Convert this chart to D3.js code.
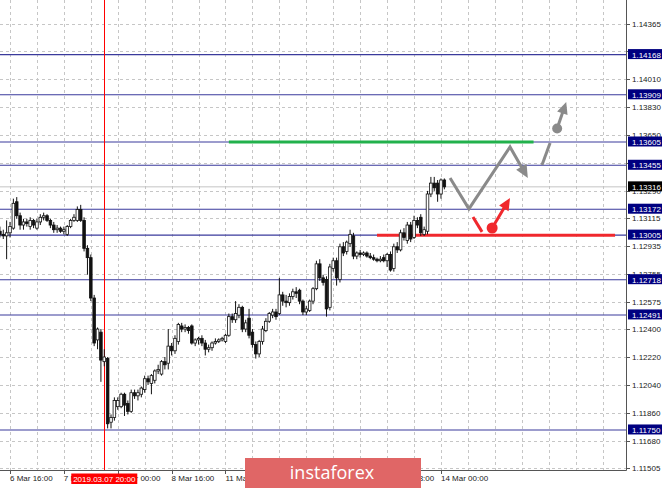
<!DOCTYPE html>
<html><head><meta charset="utf-8">
<script src="https://cdn.jsdelivr.net/npm/d3@7"></script>
<style>html,body{margin:0;padding:0;background:#fff;}svg{display:block;font-family:"Liberation Sans",Arial,sans-serif;}</style>
</head><body><svg id="c" width="665" height="488"></svg>
<script>
// ---- data (EURUSD H1) ----
const opens=[1.1303,1.1301,1.1300,1.1302,1.1305,1.1322,1.1313,1.1307,1.1309,1.1306,1.1310,1.1305,1.1309,1.1312,1.1313,1.1310,1.1307,1.1304,1.1305,1.1303,
1.1301,1.1306,1.1310,1.1310,1.1317,1.1310,1.1292,1.1286,1.1260,1.1233,1.1238,1.1219,1.1221,1.1180,1.1183,1.1190,1.1190,1.1198,1.1192,1.1187,
1.1199,1.1197,1.1198,1.1201,1.1208,1.1205,1.1207,1.1213,1.1211,1.1219,1.1218,1.1229,1.1226,1.1232,1.1242,1.1240,1.1241,1.1242,1.1231,1.1233,
1.1234,1.1231,1.1227,1.1228,1.1231,1.1232,1.1233,1.1232,1.1236,1.1248,1.1246,1.1249,1.1254,1.1240,1.1247,1.1238,1.1230,1.1224,1.1232,1.1239,
1.1245,1.1249,1.1251,1.1250,1.1262,1.1258,1.1257,1.1261,1.1264,1.1265,1.1258,1.1251,1.1252,1.1258,1.1266,1.1282,1.1273,1.1272,1.1254,1.1279,
1.1284,1.1272,1.1293,1.1290,1.1295,1.1300,1.1287,1.1289,1.1288,1.1289,1.1287,1.1286,1.1285,1.1284,1.1286,1.1284,1.1288,1.1279,1.1293,1.1291,
1.1302,1.1297,1.1307,1.1299,1.1310,1.1312,1.1301,1.1303,1.1327,1.1334,1.1334,1.1327,1.1336];
const highs=[1.1306,1.1304,1.1310,1.1309,1.1324,1.1325,1.1315,1.1311,1.1311,1.1312,1.1311,1.1311,1.1314,1.1315,1.1314,1.1311,1.1309,1.1307,1.1306,1.1306,
1.1307,1.1311,1.1314,1.1319,1.1320,1.1312,1.1294,1.1288,1.1262,1.1241,1.1240,1.1227,1.1222,1.1185,1.1196,1.1196,1.1199,1.1199,1.1194,1.1201,
1.1201,1.1201,1.1203,1.1210,1.1210,1.1211,1.1214,1.1217,1.1220,1.1222,1.1240,1.1231,1.1236,1.1244,1.1244,1.1243,1.1242,1.1243,1.1234,1.1235,
1.1236,1.1233,1.1230,1.1232,1.1234,1.1234,1.1235,1.1237,1.1250,1.1250,1.1258,1.1256,1.1255,1.1246,1.1253,1.1240,1.1232,1.1233,1.1242,1.1247,
1.1251,1.1253,1.1253,1.1273,1.1264,1.1262,1.1263,1.1266,1.1267,1.1266,1.1259,1.1255,1.1259,1.1267,1.1284,1.1285,1.1275,1.1274,1.1282,1.1286,
1.1286,1.1295,1.1296,1.1297,1.1304,1.1302,1.1290,1.1291,1.1290,1.1290,1.1289,1.1288,1.1286,1.1287,1.1288,1.1289,1.1290,1.1295,1.1296,1.1304,
1.1305,1.1309,1.1309,1.1313,1.1312,1.1314,1.1306,1.1329,1.1338,1.1338,1.1336,1.1337,1.1337];
const lows=[1.1299,1.1298,1.1285,1.1299,1.1304,1.1311,1.1304,1.1304,1.1306,1.1304,1.1305,1.1304,1.1307,1.1310,1.1309,1.1305,1.1302,1.1302,1.1302,1.1301,
1.1300,1.1305,1.1309,1.1309,1.1309,1.1290,1.1275,1.1258,1.1229,1.1227,1.1206,1.1216,1.1176,1.1176,1.1181,1.1188,1.1189,1.1184,1.1185,1.1186,
1.1195,1.1194,1.1196,1.1199,1.1204,1.1198,1.1205,1.1211,1.1210,1.1214,1.1214,1.1223,1.1224,1.1230,1.1238,1.1238,1.1237,1.1230,1.1229,1.1230,
1.1229,1.1223,1.1225,1.1226,1.1230,1.1231,1.1232,1.1231,1.1235,1.1244,1.1244,1.1247,1.1238,1.1238,1.1234,1.1228,1.1221,1.1222,1.1230,1.1238,
1.1244,1.1247,1.1246,1.1249,1.1255,1.1254,1.1255,1.1259,1.1260,1.1256,1.1249,1.1249,1.1251,1.1256,1.1265,1.1271,1.1268,1.1248,1.1252,1.1277,
1.1268,1.1270,1.1287,1.1288,1.1293,1.1285,1.1285,1.1286,1.1287,1.1286,1.1285,1.1284,1.1283,1.1283,1.1283,1.1280,1.1277,1.1277,1.1289,1.1290,
1.1297,1.1295,1.1296,1.1298,1.1305,1.1300,1.1300,1.1301,1.1325,1.1329,1.1322,1.1324,1.1330];
const closes=[1.1301,1.1300,1.1302,1.1306,1.1321,1.1313,1.1307,1.1309,1.1308,1.1310,1.1307,1.1309,1.1312,1.1313,1.1310,1.1307,1.1304,1.1305,1.1303,1.1304,
1.1306,1.1310,1.1312,1.1317,1.1310,1.1292,1.1286,1.1260,1.1231,1.1240,1.1220,1.1222,1.1179,1.1183,1.1194,1.1194,1.1198,1.1191,1.1187,1.1199,
1.1197,1.1199,1.1202,1.1208,1.1206,1.1210,1.1213,1.1214,1.1219,1.1217,1.1229,1.1226,1.1234,1.1243,1.1240,1.1241,1.1239,1.1231,1.1233,1.1234,
1.1231,1.1227,1.1228,1.1231,1.1232,1.1233,1.1234,1.1236,1.1248,1.1246,1.1250,1.1254,1.1240,1.1244,1.1236,1.1230,1.1224,1.1232,1.1240,1.1245,
1.1250,1.1251,1.1248,1.1262,1.1258,1.1257,1.1261,1.1264,1.1263,1.1258,1.1251,1.1253,1.1258,1.1266,1.1282,1.1273,1.1270,1.1253,1.1280,1.1284,
1.1273,1.1293,1.1289,1.1296,1.1301,1.1287,1.1289,1.1288,1.1289,1.1287,1.1286,1.1285,1.1284,1.1285,1.1284,1.1288,1.1278,1.1293,1.1291,1.1302,
1.1299,1.1307,1.1298,1.1310,1.1307,1.1302,1.1304,1.1327,1.1334,1.1331,1.1327,1.1336,1.13316];

const priceTicks=[1.14365,1.14190,1.14010,1.13830,1.13650,1.13470,1.13290,1.13115,1.12935,1.12755,1.12575,1.12400,1.12220,1.12040,1.11860,1.11680,1.11505];
const levelPrices=[1.14168,1.13909,1.13605,1.13455,1.13172,1.13005,1.12718,1.12491,1.11750];
const currentPrice=1.13316;

const timeLabels=["6 Mar 16:00","7 Mar 08:00","8 Mar 00:00","8 Mar 16:00","11 Mar 08:00","12 Mar 00:00","12 Mar 16:00","13 Mar 08:00","14 Mar 00:00"];
const timeLabelBars=[3,19,35,51,67,83,99,115,131];
const gridBars=[3,11,19,27,35,43,51,59,67,75,83,91,99,107,115,123,131,139,147,155,163,171,179];
const markerBar=31, markerLabel="2019.03.07 20:00";

// drawn analysis objects: [bar, price]
const greenLine=[[68,1.13605],[158.5,1.13605]];
const redLine=[[112,1.13005],[182.7,1.13005]];
const grayPath1=[[133.7,1.13373],[139.3,1.13174],[151.5,1.13573],[156.8,1.13373]];
const grayPath2=[[161.0,1.13457],[163.4,1.13599]];
const grayArrow2=[[165.5,1.13692],[168.2,1.13863]];
const redSeg=[[140.5,1.13122],[143.2,1.13026]];
const redArrow=[[146.2,1.13051],[151.5,1.13244]];
const brandText="instaforex";

// ---- drawing ----
const W=626, H=470;
const svg=d3.select("#c");
svg.append("rect").attr("width",665).attr("height",488).attr("fill","#fff");
const x=d3.scaleLinear().domain([0,186]).range([-0.1,-0.1+186*3.367]);
const y=d3.scaleLinear().domain([1.11505,1.14365]).range([468,24]);

svg.append("clipPath").attr("id","pc").append("rect").attr("x",0).attr("y",0).attr("width",W).attr("height",H);
const g=svg.append("g").attr("clip-path","url(#pc)");

// grid
g.selectAll(".hg").data(priceTicks).join("line")
 .attr("x1",0).attr("x2",W).attr("y1",d=>Math.round(y(d))+0.5).attr("y2",d=>Math.round(y(d))+0.5)
 .attr("stroke","#c6c6c6").attr("stroke-dasharray","3,3");
g.selectAll(".vg").data(gridBars).join("line")
 .attr("y1",0).attr("y2",H).attr("x1",d=>Math.round(x(d))+0.5).attr("x2",d=>Math.round(x(d))+0.5)
 .attr("stroke","#c6c6c6").attr("stroke-dasharray","3,3");

// bid line
g.append("line").attr("x1",0).attr("x2",W).attr("y1",y(currentPrice)).attr("y2",y(currentPrice)).attr("stroke","#c4c4c4");

// levels
g.selectAll(".lv").data(levelPrices).join("line")
 .attr("x1",0).attr("x2",W).attr("y1",d=>y(d)).attr("y2",d=>y(d))
 .attr("stroke","#3a3a9c").attr("stroke-width",1.1);

// vertical red marker
g.append("line").attr("x1",Math.round(x(markerBar))+0.5).attr("x2",Math.round(x(markerBar))+0.5).attr("y1",0).attr("y2",H).attr("stroke","#ff0000");

const line=d3.line().x(d=>x(d[0])).y(d=>y(d[1]));
g.append("path").attr("d",line(greenLine)).attr("stroke","#22b14c").attr("stroke-width",3).attr("fill","none");
g.append("path").attr("d",line(redLine)).attr("stroke","#f0282d").attr("stroke-width",3).attr("fill","none");

// candles
const bars=d3.range(opens.length);
const cg=g.append("g");
cg.selectAll(".wk").data(bars).join("line")
 .attr("x1",i=>x(i)).attr("x2",i=>x(i)).attr("y1",i=>y(highs[i])).attr("y2",i=>y(lows[i]))
 .attr("stroke","#111").attr("stroke-width",1);
cg.selectAll(".bd").data(bars).join("rect")
 .attr("x",i=>x(i)-1.3).attr("width",2.6)
 .attr("y",i=>y(Math.max(opens[i],closes[i])))
 .attr("height",i=>Math.max(1,Math.abs(y(opens[i])-y(closes[i]))))
 .attr("fill",i=>closes[i]>=opens[i]?"#fff":"#111")
 .attr("stroke","#111").attr("stroke-width",0.8);

// forecast arrows
function arrowHead(sel,pts,color,len,hw){
  const a=pts[pts.length-2], b=pts[pts.length-1];
  const x1=x(a[0]),y1=y(a[1]),x2=x(b[0]),y2=y(b[1]);
  const dx=x2-x1, dy=y2-y1, L=Math.hypot(dx,dy), ux=dx/L, uy=dy/L;
  const bx=x2-ux*len, by=y2-uy*len;
  sel.append("polygon").attr("points",[[x2,y2],[bx-uy*hw,by+ux*hw],[bx+uy*hw,by-ux*hw]].map(p=>p.join(",")).join(" ")).attr("fill",color);
}
function shortLine(pts,len){
  const a=pts[pts.length-2], b=pts[pts.length-1];
  const x1=x(a[0]),y1=y(a[1]),x2=x(b[0]),y2=y(b[1]);
  const dx=x2-x1, dy=y2-y1, L=Math.hypot(dx,dy);
  const px=pts.slice(0,-1).map(d=>[x(d[0]),y(d[1])]);
  px.push([x2-dx/L*len*0.8,y2-dy/L*len*0.8]);
  return "M"+px.map(p=>p.join(",")).join("L");
}
const gray="#8a8a8a", red="#f0282d";
g.append("path").attr("d",shortLine(grayPath1,12)).attr("stroke",gray).attr("stroke-width",3).attr("fill","none").attr("stroke-linejoin","miter");
arrowHead(g,grayPath1,gray,13,6);
g.append("path").attr("d",line(grayPath2)).attr("stroke",gray).attr("stroke-width",3).attr("fill","none");
g.append("path").attr("d",shortLine(grayArrow2,11)).attr("stroke",gray).attr("stroke-width",3).attr("fill","none");
arrowHead(g,grayArrow2,gray,12,5.5);
g.append("circle").attr("cx",x(grayArrow2[0][0])).attr("cy",y(grayArrow2[0][1])).attr("r",5).attr("fill",gray);
g.append("path").attr("d",line(redSeg)).attr("stroke",red).attr("stroke-width",3).attr("fill","none");
g.append("path").attr("d",shortLine(redArrow,11)).attr("stroke",red).attr("stroke-width",3).attr("fill","none");
arrowHead(g,redArrow,red,12,5.5);
g.append("circle").attr("cx",x(redArrow[0][0])).attr("cy",y(redArrow[0][1])).attr("r",5.5).attr("fill",red);

// axes lines
svg.append("line").attr("x1",W+0.5).attr("x2",W+0.5).attr("y1",0).attr("y2",H+0.5).attr("stroke","#555");
svg.append("line").attr("x1",0).attr("x2",W+0.5).attr("y1",H+0.5).attr("y2",H+0.5).attr("stroke","#555");

// right axis ticks & labels (labels completely hidden behind a level box are not drawn)
const boxed=levelPrices.concat([currentPrice]);
const visibleTicks=priceTicks.filter(t=>!boxed.some(b=>Math.abs(y(t)-y(b))<3.5));
const ra=svg.append("g").attr("font-size",8);
ra.selectAll(".tk").data(priceTicks).join("line")
 .attr("x1",W).attr("x2",W+4).attr("y1",d=>Math.round(y(d))+0.5).attr("y2",d=>Math.round(y(d))+0.5).attr("stroke","#555");
ra.selectAll(".tl").data(visibleTicks).join("text")
 .attr("x",632).attr("y",d=>y(d)+3).attr("fill","#222").text(d=>d.toFixed(5));
const lb=ra.selectAll(".lb").data(levelPrices).join("g");
lb.append("rect").attr("x",628).attr("width",34).attr("y",d=>y(d)-5.5).attr("height",10).attr("fill","#000080");
lb.append("text").attr("x",632).attr("y",d=>y(d)+3).attr("fill","#fff").text(d=>d.toFixed(5));
ra.append("rect").attr("x",628).attr("width",34).attr("y",y(currentPrice)-5.5).attr("height",10).attr("fill","#000");
ra.append("text").attr("x",632).attr("y",y(currentPrice)+3).attr("fill","#fff").text(currentPrice.toFixed(5));

// bottom axis
const brandX0=245, brandX1=421;
const ba=svg.append("g").attr("font-size",8);
ba.selectAll(".bt").data(timeLabelBars).join("line")
 .attr("x1",d=>Math.round(x(d))+0.5).attr("x2",d=>Math.round(x(d))+0.5).attr("y1",H).attr("y2",H+4).attr("stroke","#555");
ba.selectAll(".bl").data(timeLabelBars).join("text")
 .attr("x",d=>x(d)).attr("y",481).attr("fill","#222").text((d,i)=>timeLabels[i])
 .each(function(d){ // drop labels entirely hidden by the brand box
   const w=this.getComputedTextLength(), x0=x(d);
   if(x0>brandX0 && x0+w<brandX1) d3.select(this).remove();
 });
ba.append("rect").attr("x",x(markerBar)-33).attr("y",473.5).attr("width",66).attr("height",10.5).attr("fill","#ff0000");
ba.append("text").attr("x",x(markerBar)).attr("y",481.5).attr("text-anchor","middle").attr("fill","#fff").text(markerLabel);

// brand box
svg.append("rect").attr("x",brandX0).attr("y",458).attr("width",brandX1-brandX0).attr("height",30).attr("fill","#e06666");
svg.append("text").attr("x",332).attr("y",479).attr("text-anchor","middle").attr("fill","#fff")
 .attr("font-family","'Open Sans',sans-serif").attr("font-size",18).text(brandText);
</script></body></html>
